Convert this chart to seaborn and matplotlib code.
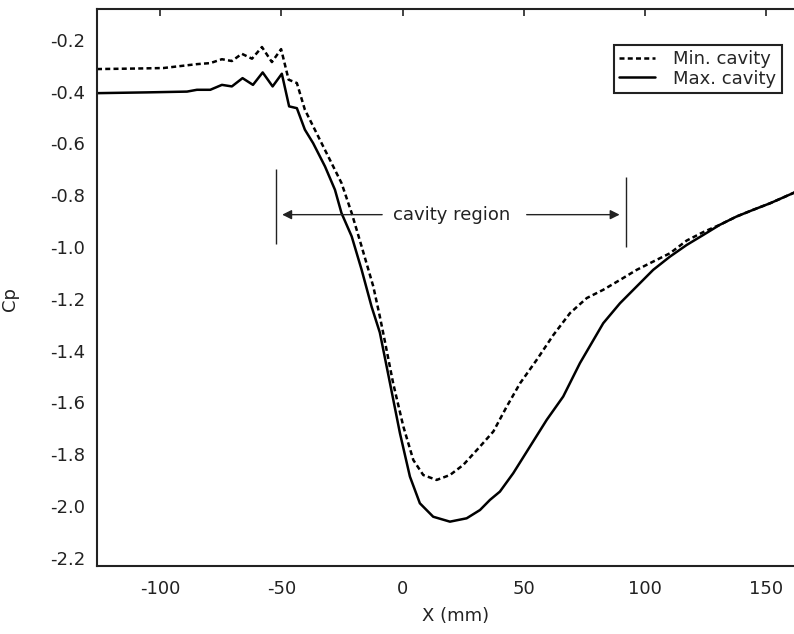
import matplotlib
matplotlib.use('Agg')
import matplotlib.pyplot as plt
import pandas as pd
import seaborn as sns

# pressure coefficient along the body
min_x = [-126, -110, -98.6, -90.3, -84.8, -79.3, -74.5, -70.4, -66.3, -62.1,
         -58.0, -53.9, -50.1, -47.0, -43.6, -40.3, -35.5, -30.0, -25.2, -21.0,
         -16.9, -12.1, -9.4, -7.7, -3.9, 0.3, 4.4, 8.5, 14.0, 19.5,
         25.0, 31.9, 37.4, 42.9, 48.4, 55.3, 62.1, 69.0, 75.9, 82.7,
         89.6, 96.5, 103.3, 110.2, 117.1, 124.0, 130.8, 137.7, 144.6, 151.5,
         161.4, 166.0]
min_cp = [-0.313, -0.311, -0.309, -0.300, -0.294, -0.290, -0.275, -0.282, -0.254, -0.273,
          -0.228, -0.286, -0.236, -0.354, -0.367, -0.470, -0.560, -0.663, -0.753, -0.869,
          -0.998, -1.152, -1.268, -1.346, -1.526, -1.693, -1.822, -1.880, -1.899, -1.880,
          -1.841, -1.770, -1.712, -1.616, -1.526, -1.435, -1.340, -1.255, -1.197, -1.165,
          -1.127, -1.088, -1.056, -1.024, -0.975, -0.942, -0.914, -0.882, -0.856, -0.831,
          -0.790, -0.775]

max_x = [-126, -105.4, -88.9, -84.8, -79.3, -74.5, -70.4, -66.0, -61.7, -57.7,
         -53.6, -49.8, -46.8, -43.6, -40.3, -36.9, -32.0, -27.9, -25.2, -21.0,
         -16.9, -12.8, -9.4, -5.2, -1.1, 3.0, 7.1, 12.6, 19.5, 26.4,
         31.9, 36.0, 40.1, 45.6, 52.5, 59.4, 66.2, 73.1, 82.7, 89.6,
         96.5, 103.3, 110.2, 117.1, 124.0, 130.8, 137.7, 144.6, 151.5, 161.4,
         166.0]
max_cp = [-0.406, -0.403, -0.400, -0.393, -0.393, -0.374, -0.380, -0.348, -0.374, -0.326,
          -0.380, -0.331, -0.457, -0.464, -0.547, -0.599, -0.689, -0.779, -0.869, -0.959,
          -1.088, -1.230, -1.330, -1.526, -1.719, -1.886, -1.989, -2.041, -2.060, -2.047,
          -2.015, -1.976, -1.944, -1.873, -1.770, -1.667, -1.577, -1.448, -1.294, -1.217,
          -1.152, -1.088, -1.037, -0.992, -0.953, -0.914, -0.882, -0.856, -0.831, -0.790,
          -0.775]

x_ticks = [-100, -50, 0, 50, 100, 150]
y_ticks = [-2.2, -2.0, -1.8, -1.6, -1.4, -1.2, -1.0, -0.8, -0.6, -0.4, -0.2]

df = pd.concat([
    pd.DataFrame({'X': min_x, 'Cp': min_cp, 'case': 'Min. cavity'}),
    pd.DataFrame({'X': max_x, 'Cp': max_cp, 'case': 'Max. cavity'}),
])

sns.set_theme(style='white')
plt.rcParams['font.family'] = ['DejaVu Sans']
plt.rcParams['axes.unicode_minus'] = False

fs = 13
ink = '#222222'

fig = plt.figure(figsize=(7.94, 6.34), dpi=100)
ax = fig.add_axes([97 / 794, 68.3 / 634, 718 / 794, 557 / 634])

sns.lineplot(data=df, x='X', y='Cp', hue='case', style='case',
             hue_order=['Min. cavity', 'Max. cavity'],
             style_order=['Min. cavity', 'Max. cavity'],
             palette=['black', 'black'],
             dashes={'Min. cavity': (2, 1.3), 'Max. cavity': ''},
             estimator=None, sort=False, linewidth=1.8, ax=ax)

ax.set_xlim(-126, 170)
ax.set_ylim(-2.23, -0.08)
ax.set_xticks(x_ticks)
ax.set_yticks(y_ticks)
ax.set_yticklabels([f'{v:.1f}' for v in y_ticks])
ax.tick_params(direction='in', length=5, width=1.2, top=True, right=False,
               labelsize=fs, colors=ink)
ax.tick_params(axis='x', pad=10)
ax.tick_params(axis='y', pad=8.5)
for s in ax.spines.values():
    s.set_linewidth(1.5)
    s.set_color(ink)

ax.set_xlabel('X (mm)', fontsize=fs, color=ink)
ax.set_ylabel('Cp', fontsize=fs, color=ink)
ax.xaxis.set_label_coords(0.5, -0.074)
ax.yaxis.set_label_coords(-0.108, 0.478)

# cavity region markers
ax.vlines(-52.2, -0.99, -0.70, color=ink, lw=1)
ax.vlines(92.1, -1.00, -0.73, color=ink, lw=1)
arrow = dict(arrowstyle='-|>', color=ink, lw=1, mutation_scale=14)
ax.annotate('', xy=(-50.8, -0.875), xytext=(-7.3, -0.875), arrowprops=arrow)
ax.annotate('', xy=(90.6, -0.875), xytext=(50.0, -0.875), arrowprops=arrow)
ax.text(20.3, -0.875, 'cavity region', ha='center', va='center',
        fontsize=fs, color=ink)

handles, labels = ax.get_legend_handles_labels()
leg = ax.legend(handles=handles, labels=labels, loc='upper right',
                bbox_to_anchor=(0.954, 0.935), frameon=True, fancybox=False,
                edgecolor=ink, framealpha=1, borderpad=0.3,
                labelspacing=0.08, handlelength=2.0, handletextpad=1.0,
                borderaxespad=0, fontsize=fs)
leg.get_frame().set_linewidth(1.5)

fig.savefig('out.png', dpi=100)
